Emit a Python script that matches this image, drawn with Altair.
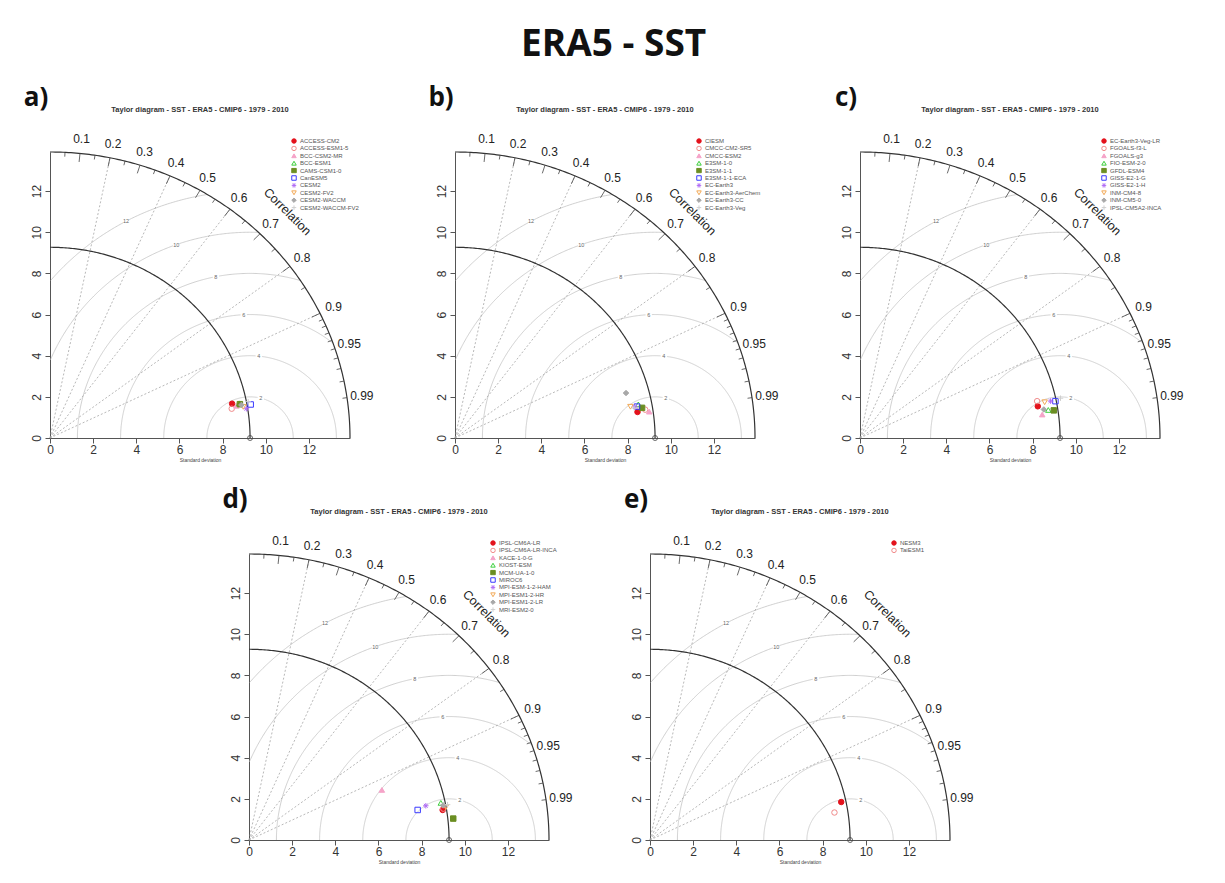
import altair as alt
import numpy as np
import pandas as pd

# ---------------- data ----------------
REF_SD = 9.27          # ERA5 reference standard deviation
MAX_SD = 13.9          # outer radius of the diagram

MAIN_TITLE = "ERA5 - SST"
PANEL_TITLE = "Taylor diagram - SST - ERA5 - CMIP6 - 1979 - 2010"
panel_labels = ["a)", "b)", "c)", "d)", "e)"]

models_a = ["ACCESS-CM2", "ACCESS-ESM1-5", "BCC-CSM2-MR", "BCC-ESM1", "CAMS-CSM1-0",
            "CanESM5", "CESM2", "CESM2-FV2", "CESM2-WACCM", "CESM2-WACCM-FV2"]
sd_a = [8.60, 8.54, 8.78, 8.93, 8.95, 9.44, 9.21, 9.08, 9.01, 9.35]
cor_a = [0.981, 0.986, 0.984, 0.982, 0.983, 0.985, 0.988, 0.986, 0.984, 0.982]

models_b = ["CIESM", "CMCC-CM2-SR5", "CMCC-ESM2", "E3SM-1-0", "E3SM-1-1",
            "E3SM-1-1-ECA", "EC-Earth3", "EC-Earth3-AerChem", "EC-Earth3-CC", "EC-Earth3-Veg"]
sd_b = [8.55, 8.92, 9.09, 8.65, 8.79, 8.57, 8.48, 8.27, 8.22, 8.43]
cor_b = [0.989, 0.988, 0.990, 0.982, 0.986, 0.984, 0.984, 0.983, 0.964, 0.985]

models_c = ["EC-Earth3-Veg-LR", "FGOALS-f3-L", "FGOALS-g3", "FIO-ESM-2-0", "GFDL-ESM4",
            "GISS-E2-1-G", "GISS-E2-1-H", "INM-CM4-8", "INM-CM5-0", "IPSL-CM5A2-INCA"]
sd_c = [8.38, 8.40, 8.52, 8.83, 9.08, 9.23, 9.01, 8.73, 8.63, 9.49]
cor_c = [0.983, 0.977, 0.991, 0.988, 0.989, 0.981, 0.980, 0.980, 0.987, 0.979]

models_d = ["IPSL-CM6A-LR", "IPSL-CM6A-LR-INCA", "KACE-1-0-G", "KIOST-ESM", "MCM-UA-1-0",
            "MIROC6", "MPI-ESM-1-2-HAM", "MPI-ESM1-2-HR", "MPI-ESM1-2-LR", "MRI-ESM2-0"]
sd_d = [9.09, 9.13, 6.62, 9.07, 9.52, 7.95, 8.36, 9.26, 9.15, 9.36]
cor_d = [0.987, 0.986, 0.930, 0.980, 0.994, 0.983, 0.980, 0.985, 0.983, 0.983]

models_e = ["NESM3", "TaiESM1"]
sd_e = [9.05, 8.65]
cor_e = [0.979, 0.988]

corr_label_values = [0.1, 0.2, 0.3, 0.4, 0.5, 0.6, 0.7, 0.8, 0.9, 0.95, 0.99]
corr_line_values = [0.2, 0.4, 0.6, 0.8, 0.9]
corr_major_ticks = [0.1, 0.2, 0.3, 0.4, 0.5, 0.6, 0.7, 0.8, 0.9]
corr_minor_ticks = [0.05, 0.15, 0.25, 0.35, 0.45, 0.55, 0.65, 0.75, 0.85, 0.95,
                    0.91, 0.92, 0.93, 0.94, 0.96, 0.97, 0.98, 0.99]
rms_levels = [2, 4, 6, 8, 10, 12]
rms_label_angles = [1.32, 1.47, 1.62, 1.77, 1.92, 2.07]   # radians along each RMS arc
axis_ticks = [0, 2, 4, 6, 8, 10, 12]

ASTERISK = "M-1,0L1,0M0,-1L0,1M-0.7,-0.7L0.7,0.7M-0.7,0.7L0.7,-0.7"
PLUS = "M-1,0L1,0M0,-1L0,1"
marker_shapes = ["circle", "circle", "triangle-up", "triangle-up", "square",
                 "square", ASTERISK, "triangle-down", "diamond", PLUS]
marker_colors = ["#e3121c", "#f08a8a", "#f5a3c8", "#3ccf3c", "#6b8e23",
                 "#3a3aff", "#b06cf5", "#f2a957", "#a8a8a8", "#cfcfcf"]
marker_filled = [True, False, True, False, True, False, False, False, True, False]

# ---------------- geometry of the diagram ----------------
def arc_frame(radius, cx, t0, t1, n, grp):
    t = np.linspace(t0, t1, n)
    return pd.DataFrame({"x": cx + radius * np.cos(t), "y": radius * np.sin(t),
                         "i": np.arange(n), "grp": grp})

dark_arcs = pd.concat([arc_frame(MAX_SD, 0, 0, np.pi / 2, 181, "outer"),
                       arc_frame(REF_SD, 0, 0, np.pi / 2, 181, "ref")])

rms_parts = []
for g in rms_levels:
    f = arc_frame(g, REF_SD, 0, np.pi, 500, f"rms{g}")
    f = f[(f.x >= 0) & (f.x ** 2 + f.y ** 2 <= MAX_SD ** 2)]
    rms_parts.append(f)
rms_arcs = pd.concat(rms_parts)

radial = pd.DataFrame({"x": [0.0] * len(corr_line_values),
                       "y": [0.0] * len(corr_line_values),
                       "x2": [MAX_SD * c for c in corr_line_values],
                       "y2": [MAX_SD * np.sqrt(1 - c * c) for c in corr_line_values]})

def tick_frame(values, inner):
    return pd.DataFrame({"x": [MAX_SD * c for c in values],
                         "y": [MAX_SD * np.sqrt(1 - c * c) for c in values],
                         "x2": [inner * MAX_SD * c for c in values],
                         "y2": [inner * MAX_SD * np.sqrt(1 - c * c) for c in values]})

ticks = pd.concat([tick_frame(corr_major_ticks, 0.97), tick_frame(corr_minor_ticks, 0.985)])

corr_labels = pd.DataFrame({"x": [1.05 * MAX_SD * c for c in corr_label_values],
                            "y": [1.05 * MAX_SD * np.sqrt(1 - c * c) for c in corr_label_values],
                            "t": [f"{c:g}" for c in corr_label_values]})

rms_labels = pd.DataFrame({"x": [REF_SD + g * np.cos(a) for g, a in zip(rms_levels, rms_label_angles)],
                           "y": [g * np.sin(a) for g, a in zip(rms_levels, rms_label_angles)],
                           "t": [str(g) for g in rms_levels]})

ref_point = pd.DataFrame({"x": [REF_SD], "y": [0.0]})
corr_word = pd.DataFrame({"x": [11.0], "y": [11.0], "t": ["Correlation"]})

# ---------------- encodings ----------------
XS = alt.Scale(domain=[0, MAX_SD], nice=False, zero=False)
YS = alt.Scale(domain=[0, MAX_SD], nice=False, zero=False)
FONT = "Liberation Sans"

X_AXIS = alt.Axis(values=axis_ticks, title="Standard deviation", titleFontSize=5,
                  titleFontWeight="normal", titleColor="#444", titlePadding=2, titleFont=FONT,
                  labelFontSize=12, labelColor="#333", labelFont=FONT, labelPadding=1,
                  tickSize=5, tickColor="#555", domainColor="#555", grid=False,
                  labelFlush=False, format="d")
Y_AXIS = alt.Axis(values=axis_ticks, title=None, labelAngle=-90, labelAlign="center",
                  labelBaseline="bottom", labelFontSize=12, labelColor="#333", labelFont=FONT,
                  labelPadding=2, tickSize=5, tickColor="#555", domainColor="#555",
                  grid=False, labelFlush=False, format="d")

def xy():
    return dict(x=alt.X("x:Q", scale=XS, axis=X_AXIS), y=alt.Y("y:Q", scale=YS, axis=Y_AXIS))

def xy2():
    return dict(x2=alt.X2("x2:Q"), y2=alt.Y2("y2:Q"))

W, H = 300, 286

def panel(label, models, sds, cors):
    n = len(models)
    c = np.array(cors)
    s = np.array(sds)
    pts = pd.DataFrame({"model": models, "x": s * c, "y": s * np.sqrt(1 - c * c)})
    leg = alt.Legend(title=None, orient="none", legendX=241, legendY=-14,
                     labelFontSize=6, labelColor="#555", labelFont=FONT, symbolSize=20,
                     symbolStrokeWidth=1, rowPadding=1.4, clipHeight=6, labelOffset=3, padding=0)
    fills = [col if f else "transparent" for col, f in zip(marker_colors[:n], marker_filled[:n])]

    layers = [
        alt.Chart(rms_arcs).mark_line(color="#c4c4c4", strokeWidth=0.8).encode(
            **xy(), detail="grp:N", order="i:Q"),
        alt.Chart(radial).mark_rule(color="#9a9a9a", strokeWidth=0.7, strokeDash=[2, 2]).encode(
            **xy(), **xy2()),
        alt.Chart(dark_arcs).mark_line(color="#333", strokeWidth=1.2).encode(
            **xy(), detail="grp:N", order="i:Q"),
        alt.Chart(ticks).mark_rule(color="#444", strokeWidth=0.8).encode(**xy(), **xy2()),
        alt.Chart(rms_labels).mark_square(color="white", size=40, opacity=1).encode(**xy()),
        alt.Chart(rms_labels).mark_text(fontSize=5.5, fill="#666", font=FONT).encode(
            **xy(), text="t:N"),
        alt.Chart(corr_labels).mark_text(fontSize=12, color="#222", font=FONT).encode(
            **xy(), text="t:N"),
        alt.Chart(corr_word).mark_text(fontSize=12.5, color="#222", font=FONT, angle=45).encode(
            **xy(), text="t:N"),
        alt.Chart(ref_point).mark_point(shape="circle", size=25, color="#444", strokeWidth=0.8,
                                        opacity=1).encode(**xy()),
        alt.Chart(pts).mark_point(size=30, strokeWidth=1, opacity=1).encode(
            **xy(),
            shape=alt.Shape("model:N", scale=alt.Scale(domain=models, range=marker_shapes[:n]), legend=leg),
            fill=alt.Fill("model:N", scale=alt.Scale(domain=models, range=fills), legend=leg),
            stroke=alt.Stroke("model:N", scale=alt.Scale(domain=models, range=marker_colors[:n]), legend=leg),
        ),
        alt.Chart(pd.DataFrame({"t": [PANEL_TITLE]})).mark_text(
            fontSize=7.5, fontWeight="bold", font=FONT, color="#333", baseline="middle").encode(
            x=alt.value(W / 2), y=alt.value(-42), text="t:N"),
        alt.Chart(pd.DataFrame({"t": [label]})).mark_text(
            fontSize=26, fontWeight="bold", font="Open Sans", color="#111", baseline="middle").encode(
            x=alt.value(-14), y=alt.value(-54), text="t:N"),
    ]
    return alt.layer(*layers).properties(width=W, height=H)

IND = dict(shape="independent", fill="independent", stroke="independent",
           x="independent", y="independent")

pa = panel(panel_labels[0], models_a, sd_a, cor_a)
pb = panel(panel_labels[1], models_b, sd_b, cor_b)
pc = panel(panel_labels[2], models_c, sd_c, cor_c)
pd_ = panel(panel_labels[3], models_d, sd_d, cor_d)
pe = panel(panel_labels[4], models_e, sd_e, cor_e)

# invisible spacer that shifts the second row to the right
spacer = alt.Chart(pd.DataFrame({"v": [0]})).mark_point(opacity=0).encode(
    x=alt.value(0), y=alt.value(0)).properties(width=98, height=H)

row1 = alt.hconcat(pa, pb, pc, spacing=105, bounds="flush").resolve_scale(**IND)
row2 = alt.hconcat(spacer, pd_, pe, spacing=101, bounds="flush").resolve_scale(**IND)

chart = alt.vconcat(row1, row2, spacing=402, bounds="flush").resolve_scale(**IND).properties(
    title=alt.TitleParams(MAIN_TITLE, fontSize=37, font="Open Sans",
                          fontWeight="bold", anchor="middle", offset=21, color="#111", dx=10),
    padding={"left": 15, "top": 18, "right": 5, "bottom": 5},
).configure_view(stroke=None).configure_axis(grid=False)

chart.save("out.html", embed_options={"renderer": "svg", "actions": False})
